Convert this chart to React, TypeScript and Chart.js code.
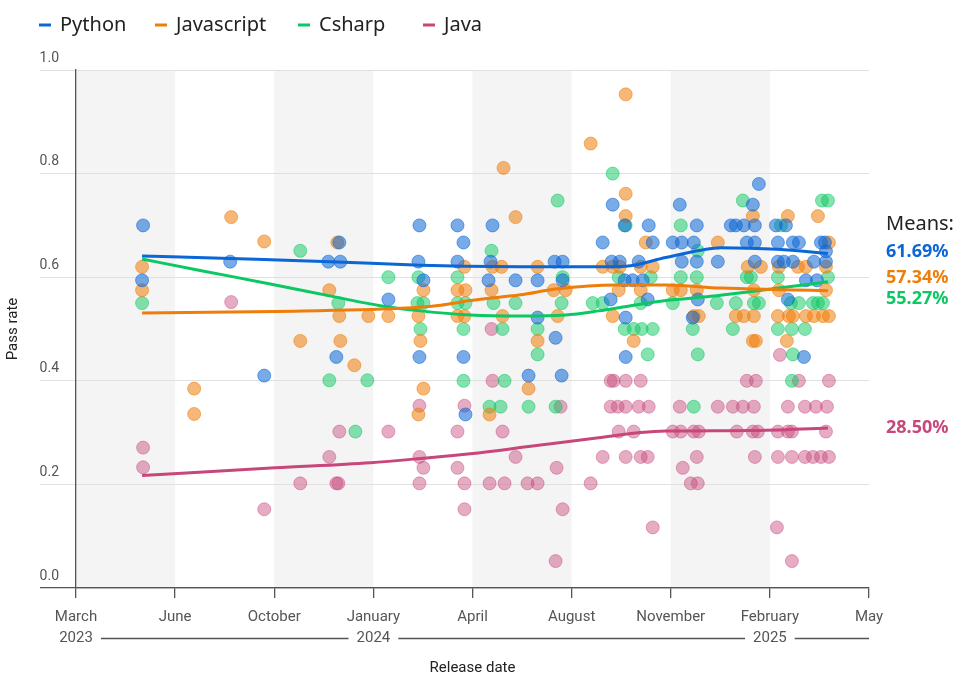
import { useEffect, useRef } from "react";
import { Chart, registerables, type ChartConfiguration, type Plugin } from "chart.js";

Chart.register(...registerables);

// x values are days since 1 March 2023, y values are pass rates
const tickDays = [0, 99, 198, 297, 396, 495, 594, 693, 792];
const monthLabels = ["March", "June", "October", "January", "April", "August", "November", "February", "May"];
const yearLabels = ["2023", "", "", "2024", "", "", "", "2025", ""];

const seriesNames = ["Python", "Javascript", "Csharp", "Java"];
const seriesColors = ["#0b66d6", "#ef7d0a", "#0bc862", "#c8477b"];
const seriesFills = [
  "rgba(11,102,214,0.55)",
  "rgba(239,125,10,0.55)",
  "rgba(11,200,98,0.5)",
  "rgba(200,71,123,0.45)",
];
const seriesMeans = ["61.69%", "57.34%", "55.27%", "28.50%"];
const meanLabelAt = [0.649, 0.599, 0.558, 0.309];
const legendX = [39, 155, 298, 423];

const pythonPoints = [
  [67, 0.7], [66, 0.594], [154, 0.63], [188, 0.41],
  [263, 0.667], [252, 0.63], [264, 0.63], [260, 0.446], [312, 0.557],
  [343, 0.7], [342, 0.63], [347, 0.594], [343, 0.446],
  [381, 0.7], [387, 0.667], [381, 0.63], [387, 0.446], [389, 0.335],
  [416, 0.7], [414, 0.63], [412, 0.594], [439, 0.594], [461, 0.594], [478, 0.63], [486, 0.63],
  [486, 0.594], [461, 0.522], [479, 0.483], [452, 0.41], [485, 0.41],
  [536, 0.74], [526, 0.667], [548, 0.7], [572, 0.7], [576, 0.667], [535, 0.63], [543, 0.63],
  [562, 0.63], [548, 0.594], [556, 0.594], [566, 0.594], [534, 0.557], [571, 0.557], [549, 0.522], [549, 0.446],
  [603, 0.74], [676, 0.74], [682, 0.78], [620, 0.7], [654, 0.7], [659, 0.7], [667, 0.7], [678, 0.7], [699, 0.7], [709, 0.7],
  [596, 0.667], [605, 0.667], [617, 0.667], [670, 0.667], [678, 0.667], [701, 0.667], [716, 0.667],
  [722, 0.667], [744, 0.667], [748, 0.667], [749, 0.65],
  [605, 0.63], [620, 0.63], [641, 0.63], [678, 0.63], [701, 0.63], [707, 0.63], [716, 0.63], [737, 0.63], [749, 0.63],
  [729, 0.594], [740, 0.594], [621, 0.557], [711, 0.557], [616, 0.522], [727, 0.446],
];

const javascriptPoints = [
  [66, 0.62], [66, 0.575], [155, 0.716], [188, 0.669], [118, 0.385], [118, 0.336],
  [261, 0.667], [253, 0.575], [263, 0.525], [292, 0.525], [224, 0.477], [264, 0.477], [278, 0.43],
  [312, 0.525], [347, 0.575], [342, 0.525], [344, 0.477], [347, 0.385], [342, 0.335],
  [388, 0.62], [381, 0.575], [389, 0.575], [381, 0.525], [388, 0.525],
  [427, 0.811], [439, 0.716], [416, 0.62], [425, 0.62], [415, 0.575], [426, 0.525], [461, 0.62],
  [477, 0.575], [489, 0.575], [481, 0.525], [461, 0.477], [452, 0.385], [413, 0.335],
  [514, 0.858], [549, 0.953], [549, 0.761], [549, 0.718], [569, 0.667], [526, 0.62], [536, 0.62],
  [543, 0.62], [564, 0.62], [576, 0.62], [542, 0.575], [564, 0.575], [536, 0.525], [557, 0.477],
  [676, 0.718], [711, 0.718], [741, 0.718], [641, 0.667], [752, 0.667],
  [671, 0.62], [684, 0.62], [702, 0.62], [721, 0.62], [729, 0.62], [749, 0.62],
  [596, 0.575], [604, 0.575], [620, 0.575], [677, 0.575], [702, 0.575], [749, 0.575],
  [617, 0.525], [622, 0.525], [659, 0.525], [667, 0.525], [677, 0.525], [701, 0.525], [712, 0.525],
  [716, 0.525], [729, 0.525], [737, 0.525], [746, 0.525], [752, 0.525],
  [676, 0.477], [679, 0.477], [710, 0.477],
];

const csharpPoints = [
  [66, 0.55],
  [224, 0.651], [262, 0.55], [253, 0.401], [291, 0.401], [279, 0.302],
  [312, 0.6], [342, 0.6], [341, 0.55], [347, 0.55], [344, 0.5],
  [381, 0.6], [381, 0.55], [389, 0.55], [387, 0.5], [387, 0.4],
  [481, 0.748], [415, 0.651], [417, 0.55], [439, 0.55], [426, 0.5], [461, 0.5], [461, 0.451], [428, 0.4],
  [413, 0.35], [424, 0.35], [452, 0.35], [479, 0.35], [486, 0.6], [485, 0.55],
  [536, 0.8], [549, 0.7], [542, 0.6], [574, 0.6], [516, 0.55], [526, 0.55], [564, 0.55],
  [548, 0.5], [557, 0.5], [565, 0.5], [576, 0.5], [571, 0.451],
  [666, 0.748], [745, 0.748], [751, 0.748], [604, 0.7], [704, 0.7], [621, 0.651],
  [604, 0.6], [620, 0.6], [670, 0.6], [674, 0.6], [701, 0.6], [751, 0.6],
  [596, 0.55], [640, 0.55], [659, 0.55], [677, 0.55], [682, 0.55], [714, 0.55], [722, 0.55],
  [736, 0.55], [741, 0.55], [746, 0.55],
  [616, 0.5], [656, 0.5], [701, 0.5], [715, 0.5], [728, 0.5], [621, 0.451], [716, 0.451], [715, 0.4], [617, 0.35],
];

const javaPoints = [
  [67, 0.271], [67, 0.233], [155, 0.552], [188, 0.152],
  [263, 0.302], [253, 0.253], [224, 0.202], [260, 0.202], [262, 0.202],
  [312, 0.302], [343, 0.352], [343, 0.253], [347, 0.232], [343, 0.202],
  [381, 0.302], [381, 0.232], [388, 0.352], [388, 0.202], [388, 0.152],
  [415, 0.5], [416, 0.4], [426, 0.302], [439, 0.253], [413, 0.202], [428, 0.202], [451, 0.202], [461, 0.202],
  [484, 0.35], [486, 0.152], [480, 0.232], [479, 0.052], [514, 0.202],
  [534, 0.4], [537, 0.4], [549, 0.4], [564, 0.4], [534, 0.35], [541, 0.35], [549, 0.35], [562, 0.35], [572, 0.35],
  [542, 0.302], [557, 0.302], [526, 0.253], [549, 0.253], [564, 0.253], [571, 0.253],
  [576, 0.117], [614, 0.202], [621, 0.202], [606, 0.232],
  [703, 0.45], [670, 0.4], [679, 0.4], [722, 0.4], [752, 0.4],
  [603, 0.35], [641, 0.35], [656, 0.35], [666, 0.35], [677, 0.35], [711, 0.35], [728, 0.35], [739, 0.35], [750, 0.35],
  [596, 0.302], [604, 0.302], [617, 0.302], [622, 0.302], [660, 0.302], [676, 0.302], [681, 0.302],
  [701, 0.302], [711, 0.302], [715, 0.302], [749, 0.302],
  [620, 0.253], [678, 0.253], [701, 0.253], [715, 0.253], [728, 0.253], [736, 0.253], [744, 0.253], [752, 0.253],
  [700, 0.117], [715, 0.052],
];

// smoothed trend lines
const pythonTrend = [
  [66, 0.641], [154, 0.636], [254, 0.63], [344, 0.623], [389, 0.621], [444, 0.62], [524, 0.62],
  [549, 0.621], [589, 0.638], [624, 0.652], [644, 0.657], [701, 0.654], [751, 0.646],
];
const javascriptTrend = [
  [66, 0.531], [199, 0.534], [324, 0.54], [364, 0.546], [394, 0.555], [444, 0.566], [479, 0.577],
  [539, 0.585], [589, 0.585], [644, 0.579], [701, 0.576], [751, 0.574],
];
const csharpTrend = [
  [66, 0.635], [124, 0.613], [194, 0.587], [261, 0.561], [304, 0.545], [344, 0.535], [394, 0.527],
  [444, 0.525], [489, 0.527], [522, 0.535], [554, 0.545], [589, 0.555], [634, 0.563], [677, 0.573],
  [714, 0.582], [751, 0.591],
];
const javaTrend = [
  [66, 0.217], [199, 0.232], [294, 0.242], [344, 0.25], [394, 0.259], [456, 0.274], [522, 0.29],
  [564, 0.3], [589, 0.303], [674, 0.304], [751, 0.309],
];

const allPoints = [pythonPoints, javascriptPoints, csharpPoints, javaPoints];
const allTrends = [pythonTrend, javascriptTrend, csharpTrend, javaTrend];

const TICK_TEXT = "#555";
const TICK_LEN = 10;
const TICK_PAD = 9;
const TICK_LINE_H = 21;

const bandsPlugin: Plugin<"scatter"> = {
  id: "bands",
  beforeDraw(chart) {
    const { ctx, scales } = chart;
    const x = scales.x;
    const y = scales.y;
    const top = y.getPixelForValue(1);
    const bottom = y.getPixelForValue(0);
    ctx.save();
    ctx.fillStyle = "#f4f4f4";
    for (let i = 0; i + 1 < tickDays.length; i += 2) {
      const x0 = x.getPixelForValue(tickDays[i]);
      const x1 = x.getPixelForValue(tickDays[i + 1]);
      ctx.fillRect(x0, top, x1 - x0, bottom - top);
    }
    ctx.restore();
  },
};

const decorPlugin: Plugin<"scatter"> = {
  id: "decor",
  afterDraw(chart) {
    const { ctx, chartArea, scales } = chart;
    const x = scales.x;
    const y = scales.y;
    ctx.save();

    // legend
    ctx.font = "20px 'Noto Sans'";
    ctx.textBaseline = "middle";
    seriesNames.forEach((name, i) => {
      const lx = legendX[i];
      ctx.strokeStyle = seriesColors[i];
      ctx.lineWidth = 3;
      ctx.beginPath();
      ctx.moveTo(lx, 25);
      ctx.lineTo(lx + 12, 25);
      ctx.stroke();
      ctx.fillStyle = "#222";
      ctx.textAlign = "left";
      ctx.fillText(name, lx + 21, 25);
    });

    // year rule under the month labels
    ctx.font = "15px Roboto";
    const yy = x.top + TICK_LEN + TICK_PAD + TICK_LINE_H * 1.5;
    const idx = yearLabels.map((l, i) => (l ? i : -1)).filter((i) => i >= 0);
    ctx.strokeStyle = "#555";
    ctx.lineWidth = 1.3;
    idx.forEach((i, k) => {
      const cx = x.getPixelForValue(tickDays[i]);
      const from = cx + ctx.measureText(yearLabels[i]).width / 2 + 8;
      let to: number;
      if (k + 1 < idx.length) {
        const j = idx[k + 1];
        to = x.getPixelForValue(tickDays[j]) - ctx.measureText(yearLabels[j]).width / 2 - 8;
      } else {
        to = x.getPixelForValue(tickDays[tickDays.length - 1]);
      }
      ctx.beginPath();
      ctx.moveTo(from, yy);
      ctx.lineTo(to, yy);
      ctx.stroke();
    });

    // means
    const mx = chartArea.right + 17;
    ctx.textAlign = "left";
    ctx.fillStyle = "#222";
    ctx.font = "20px 'Noto Sans'";
    ctx.fillText("Means:", mx, y.getPixelForValue(meanLabelAt[0]) - 28);
    ctx.font = "bold 18px 'Noto Sans'";
    seriesMeans.forEach((m, i) => {
      ctx.fillStyle = seriesColors[i];
      ctx.fillText(m, mx, y.getPixelForValue(meanLabelAt[i]));
    });
    ctx.restore();
  },
};

export default function App() {
  const canvasRef = useRef<HTMLCanvasElement>(null);

  useEffect(() => {
    if (!canvasRef.current) return;
    const scatterSets = allPoints.map((pts, i) => ({
      type: "scatter" as const,
      label: seriesNames[i],
      data: pts.map(([d, v]) => ({ x: d, y: v })),
      backgroundColor: seriesFills[i],
      borderColor: seriesFills[i],
      borderWidth: 1,
      pointRadius: 6.5,
      order: 2,
    }));
    const trendSets = allTrends.map((pts, i) => ({
      type: "line" as const,
      label: seriesNames[i] + " trend",
      data: pts.map(([d, v]) => ({ x: d, y: v })),
      borderColor: seriesColors[i],
      borderWidth: 3,
      pointRadius: 0,
      showLine: true,
      fill: false,
      cubicInterpolationMode: "monotone" as const,
      order: 1,
    }));

    const cfg: ChartConfiguration<"scatter"> = {
      type: "scatter",
      data: { datasets: [...scatterSets, ...trendSets] as any },
      options: {
        responsive: true,
        maintainAspectRatio: false,
        animation: false,
        layout: { padding: { top: 70, right: 103, left: 0, bottom: 0 } },
        plugins: { legend: { display: false }, tooltip: { enabled: false } },
        scales: {
          x: {
            type: "linear",
            min: 0,
            max: 792,
            afterBuildTicks: (s) => {
              s.ticks = tickDays.map((v) => ({ value: v }));
            },
            afterFit: (s) => {
              s.height = 90;
            },
            grid: {
              drawOnChartArea: false,
              drawTicks: true,
              tickLength: TICK_LEN,
              color: "#555",
              lineWidth: 1.3,
            },
            border: { display: true, color: "#555", width: 1.3 },
            ticks: {
              autoSkip: false,
              maxRotation: 0,
              padding: TICK_PAD,
              color: TICK_TEXT,
              font: { family: "Roboto", size: 15, lineHeight: TICK_LINE_H / 15 },
              callback: (_v, i) => [monthLabels[i], yearLabels[i]],
            },
            title: {
              display: true,
              text: "Release date",
              color: "#222",
              font: { family: "Roboto", size: 15, lineHeight: 1.2 },
              padding: { top: 0, bottom: 1 },
            },
          },
          y: {
            min: 0,
            max: 1,
            afterFit: (s) => {
              s.width = 76;
            },
            grid: {
              color: (c) => (c.tick && c.tick.value === 0 ? "#555" : "#e0e0e0"),
              lineWidth: (c) => (c.tick && c.tick.value === 0 ? 1.3 : 1),
              tickLength: 36,
            },
            border: { display: true, color: "#555", width: 1.3 },
            ticks: {
              stepSize: 0.2,
              padding: -19,
              labelOffset: -12,
              color: TICK_TEXT,
              font: { family: "Roboto", size: 14 },
              callback: (v) => Number(v).toFixed(1),
            },
            title: {
              display: true,
              text: "Pass rate",
              color: "#222",
              font: { family: "Roboto", size: 15, lineHeight: 1.2 },
              padding: { top: 4, bottom: 0 },
            },
          },
        },
      },
      plugins: [bandsPlugin, decorPlugin],
    };
    const chart = new Chart(canvasRef.current, cfg);
    return () => chart.destroy();
  }, []);

  return (
    <div style={{ position: "absolute", left: 0, top: 0, width: 972, height: 678, background: "#fff" }}>
      <canvas ref={canvasRef} />
    </div>
  );
}
